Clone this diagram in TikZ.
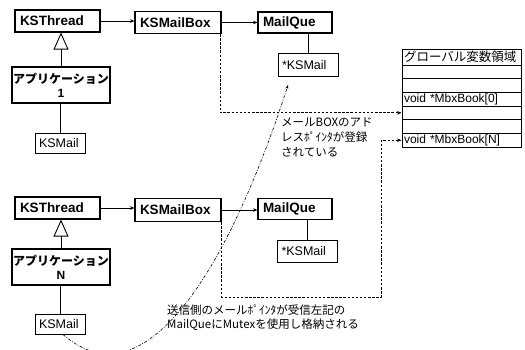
\documentclass[tikz,border=0pt]{standalone}
\usepackage{fontspec}
\setmainfont{Liberation Sans}
\newfontfamily\jp{Noto Sans CJK JP}
\usetikzlibrary{arrows.meta}
\begin{document}
\begin{tikzpicture}[x=1pt,y=-1pt,
  every node/.style={inner sep=0pt},
  bbox/.style={draw, line width=1.1pt, inner xsep=5pt, inner ysep=0pt, align=left, font=\bfseries\fontsize{13.5}{15}\selectfont},
  rbox/.style={draw, line width=1pt, inner xsep=4pt, inner ysep=0pt, align=left, font=\fontsize{12.5}{14}\selectfont},
  app/.style={draw, line width=1.1pt, align=center, minimum width=98pt, minimum height=36pt, font=\bfseries\fontsize{12}{14}\selectfont},
  cell/.style={draw, line width=0.9pt, minimum width=119pt, minimum height=13.67pt, inner xsep=2pt, text width=115pt, align=left, font=\fontsize{12}{13}\selectfont},
  arr/.style={line width=0.7pt, -{Stealth[length=4.5pt,width=3.5pt]}},
  dsh/.style={line width=1pt, dash pattern=on 2.5pt off 1.6pt, -{Stealth[length=4.5pt,width=3.5pt]}},
  inh/.style={line width=0.8pt, -{Triangle[open,length=17pt,width=15pt,line width=0.9pt]}},
  plain/.style={line width=0.8pt},
  dd/.style={line width=0.6pt, dash pattern=on 3pt off 1.5pt on 0.8pt off 1.5pt, -{Stealth[length=4pt,width=3pt]}},
  note/.style={align=left, font=\jp\fontsize{11.5}{15}\selectfont},
]
\useasboundingbox (0,0) rectangle (525,349);
\clip (0,0) rectangle (525,349);

% upper group
\node[bbox, text width=75pt, minimum height=22pt] (kst1) at (57.5,21) {KSThread};
\node[bbox, text width=76pt, minimum height=22pt] (kmb1) at (178,22.5) {KSMailBox};
\node[bbox, text width=64pt, minimum height=21pt] (mq1) at (295,22.5) {MailQue};
\node[rbox, text width=52pt, minimum height=23pt] (sk1) at (308,65) {*KSMail};
\node[app] (app1) at (61,85) {{\jp アプリケーション}\\1};
\node[rbox, text width=42pt, minimum height=20pt] (km1) at (60,143) {KSMail};

% lower group
\node[bbox, text width=75pt, minimum height=22pt] (kst2) at (57.5,208) {KSThread};
\node[bbox, text width=76pt, minimum height=23pt] (kmb2) at (178,210) {KSMailBox};
\node[bbox, text width=64pt, minimum height=21pt] (mq2) at (295,209) {MailQue};
\node[rbox, text width=52pt, minimum height=22pt] (sk2) at (307.5,251) {*KSMail};
\node[app] (app2) at (61,267) {{\jp アプリケーション}\\N};
\node[rbox, text width=42pt, minimum height=20pt] (km2) at (60,324) {KSMail};

% table
\node[cell, minimum height=16pt, font=\jp\fontsize{12.5}{13}\selectfont] (r0) at (461.5,57) {グローバル変数領域};
\node[cell] (r1) at (461.5,71.8) {};
\node[cell] (r2) at (461.5,85.5) {};
\node[cell] (r3) at (461.5,99.2) {void *MbxBook[0]};
\node[cell] (r4) at (461.5,112.8) {};
\node[cell] (r5) at (461.5,126.5) {};
\node[cell] (r6) at (461.5,140.2) {void *MbxBook[N]};
\draw[line width=1.5pt] (r0.south west) -- (r0.south east);

% notes
\node[note, anchor=north west] (n1) at (281,117) {メールBOXのアド\\レスﾎﾟｲﾝﾀが登録\\されている};
\node[note, anchor=north west, font=\jp\fontsize{11.5}{14}\selectfont] (n2) at (167,305) {送信側のメールﾎﾟｲﾝﾀが受信左記の\\MailQueにMutexを使用し格納される};

% connectors upper
\draw[arr] (kst1.east) -- (kst1.east -| kmb1.west);
\draw[arr] (kmb1.east) -- (mq1.west);
\draw[plain] (sk1.north) -- (sk1.north |- mq1.south);
\draw[inh] (app1.north) -- (app1.north |- kst1.south);
\draw[plain] (km1.north) -- (km1.north |- app1.south);

% connectors lower
\draw[arr] (kst2.east) -- (kst2.east -| kmb2.west);
\draw[arr] (kmb2.east) -- (kmb2.east -| mq2.west);
\draw[plain] (sk2.north) -- (sk2.north |- mq2.south);
\draw[inh] (app2.north) -- (app2.north |- kst2.south);
\draw[plain] (km2.north) -- (km2.north |- app2.south);

% dashed links to table
\draw[dsh] ([xshift=-1.5pt]kmb1.south east) |- (r4.west);
\coordinate (bend) at (381,297);
\draw[dsh] (kmb2.south east) |- (bend) |- (r6.west);

% dash-dot curve
\coordinate (ddend) at (288,85);
\draw[dd] ([xshift=3pt]km2.south) .. controls (150,410) and (235,250) .. (ddend);
\end{tikzpicture}
\end{document}
